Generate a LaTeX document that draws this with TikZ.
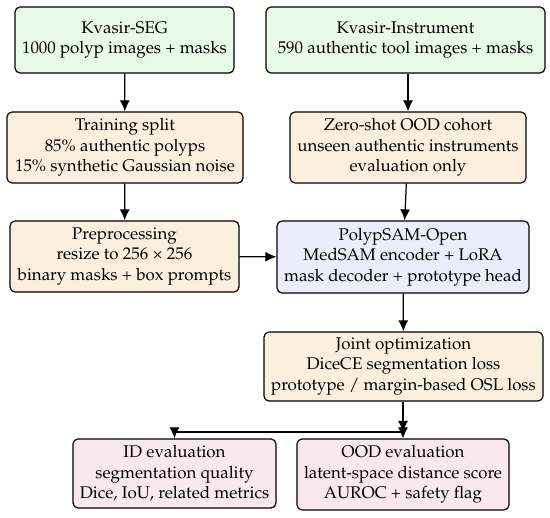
\documentclass[tikz,border=0pt]{standalone}
\usepackage[T1]{fontenc}
\usepackage{textcomp}
\usepackage{mathpazo}
\usetikzlibrary{arrows.meta,calc}
\definecolor{cgreen}{RGB}{232,250,232}
\definecolor{corange}{RGB}{253,239,224}
\definecolor{cblue}{RGB}{236,236,252}
\definecolor{cpink}{RGB}{249,232,238}
\tikzset{
  box/.style={draw=black, line width=1.2pt, rounded corners=5pt, align=center, inner sep=0pt,
    font=\fontsize{16.9}{20.5}\selectfont},
  gbox/.style={box, fill=cgreen},
  obox/.style={box, fill=corange},
  bbox/.style={box, fill=cblue},
  pbox/.style={box, fill=cpink},
  arr/.style={line width=1.2pt, -{Latex[length=11pt,width=10pt]}},
}
\begin{document}
\begin{tikzpicture}[x=1pt,y=-1pt]
\useasboundingbox (0,0) rectangle (550,518);
\node[gbox, minimum width=219pt, minimum height=66pt] (seg) at (124.5,40) {Kvasir-SEG\\1000 polyp images + masks};
\node[gbox, minimum width=279pt, minimum height=66pt] (inst) at (405.5,40) {Kvasir-Instrument\\590 authentic tool images + masks};
\node[obox, minimum width=236pt, minimum height=71pt] (train) at (125,147.5) {Training split\\85\% authentic polyps\\15\% synthetic Gaussian noise};
\node[obox, minimum width=236pt, minimum height=71pt] (zero) at (408,147.5) {Zero-shot OOD cohort\\unseen authentic instruments\\evaluation only};
\node[obox, minimum width=229pt, minimum height=71pt] (pre) at (124.5,256.5) {Preprocessing\\resize to 256 \texttimes{} 256\\binary masks + box prompts};
\node[bbox, minimum width=252pt, minimum height=72pt] (psam) at (403,257) {PolypSAM-Open\\MedSAM encoder + LoRA\\mask decoder + prototype head};
\node[obox, minimum width=279pt, minimum height=69pt] (joint) at (403.5,366.5) {Joint optimization\\DiceCE segmentation loss\\prototype / margin-based OSL loss};
\node[pbox, minimum width=203pt, minimum height=69pt] (id) at (174.5,473.5) {ID evaluation\\segmentation quality\\Dice, IoU, related metrics};
\node[pbox, minimum width=212pt, minimum height=71pt] (ood) at (403,474.5) {OOD evaluation\\latent-space distance score\\AUROC + safety flag};
\coordinate (split) at (403,432);
\draw[arr] (seg) -- (train);
\draw[arr] (train) -- (pre);
\draw[arr] (inst.south -| zero.north) -- (zero.north);
\draw[arr] (zero) -- (psam);
\draw[arr] (pre) -- (psam);
\draw[arr] (psam) -- (joint);
\draw[arr] (joint.south -| split) -- (split);
\draw[arr] (split) -- (ood.north);
\draw[arr] (split) -| (id.north);
\end{tikzpicture}
\end{document}
